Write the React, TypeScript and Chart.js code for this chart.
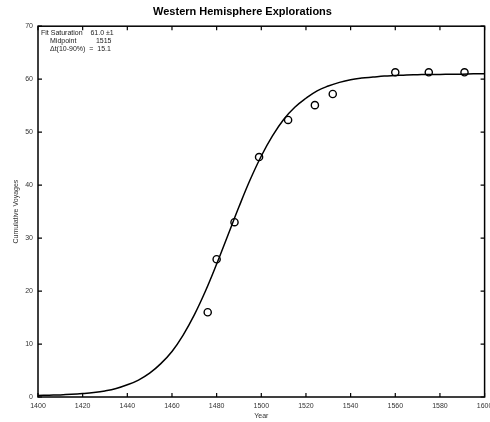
import React, { useEffect, useRef } from "react";
import { Chart, registerables } from "chart.js";

Chart.register(...registerables);

const curveYears = [1400,1405,1410,1415,1420,1425,1430,1435,1440,1445,1450,1455,1460,1465,1470,1475,1480,1485,1490,1495,1500,1505,1510,1515,1520,1525,1530,1535,1540,1545,1550,1555,1560,1565,1570,1575,1580,1585,1590,1595,1600];
const curveValues = [0.3,0.35,0.4,0.5,0.65,0.85,1.15,1.6,2.3,3.2,4.5,6.3,8.6,11.7,15.5,20.0,25.1,30.5,35.9,41.0,45.5,49.3,52.4,54.7,56.4,57.8,58.7,59.4,59.9,60.2,60.4,60.6,60.7,60.8,60.85,60.9,60.9,60.95,60.95,61.0,61.0];

const pointYears = [1476,1480,1488,1499,1512,1524,1532,1560,1575,1591];
const pointValues = [16,26,33,45.3,52.3,55.1,57.2,61.3,61.3,61.3];

const xTicks = [1400,1420,1440,1460,1480,1500,1520,1540,1560,1580,1600];
const yTicks = [0,10,20,30,40,50,60,70];

const titleText = "Western Hemisphere Explorations";
const xTitle = "Year";
const yTitle = "Cumulative Voyages";
const fitLines = ["Fit Saturation    61.0 ±1", "Midpoint          1515", "Δt(10-90%)  =  15.1"];

const FONT = "'Liberation Sans', Arial, sans-serif";

const frame = {
  id: "frame",
  afterDatasetsDraw(chart: any) {
    const { ctx, chartArea: a, scales } = chart;
    ctx.save();
    ctx.strokeStyle = "#000";
    ctx.lineWidth = 1.5;
    ctx.strokeRect(a.left, a.top, a.right - a.left, a.bottom - a.top);
    ctx.lineWidth = 1.2;
    const L = 4;
    ctx.beginPath();
    xTicks.forEach((v) => {
      const x = scales.x.getPixelForValue(v);
      ctx.moveTo(x, a.bottom); ctx.lineTo(x, a.bottom - L);
      ctx.moveTo(x, a.top); ctx.lineTo(x, a.top + L);
    });
    yTicks.forEach((v) => {
      const y = scales.y.getPixelForValue(v);
      ctx.moveTo(a.left, y); ctx.lineTo(a.left + L, y);
      ctx.moveTo(a.right, y); ctx.lineTo(a.right - L, y);
    });
    ctx.stroke();
    ctx.fillStyle = "#222";
    ctx.font = `7px ${FONT}`;
    ctx.textBaseline = "middle";
    ctx.textAlign = "left";
    fitLines.forEach((t, i) => {
      ctx.fillText(t, a.left + (i === 0 ? 3 : 12), a.top + 7 + i * 8);
    });
    ctx.restore();
  },
};

export default function App() {
  const ref = useRef<HTMLCanvasElement>(null);
  useEffect(() => {
    document.body.style.margin = "0";
    const chart = new Chart(ref.current!, {
      type: "scatter",
      data: {
        datasets: [
          {
            type: "line",
            data: curveYears.map((x, i) => ({ x, y: curveValues[i] })),
            borderColor: "#000",
            borderWidth: 1.5,
            pointRadius: 0,
            tension: 0.4,
            fill: false,
          } as any,
          {
            type: "scatter",
            data: pointYears.map((x, i) => ({ x, y: pointValues[i] })),
            borderColor: "#000",
            backgroundColor: "rgba(255,255,255,0)",
            borderWidth: 1.4,
            pointRadius: 3.6,
            pointStyle: "circle",
          },
        ],
      },
      options: {
        animation: false,
        responsive: false,
        devicePixelRatio: 1,
        layout: { padding: { left: 0, right: 5, top: 0, bottom: 0 } },
        plugins: {
          legend: { display: false },
          tooltip: { enabled: false },
          title: {
            display: true,
            text: titleText,
            color: "#000",
            font: { family: FONT, size: 11, weight: "bold" },
            padding: { top: 5, bottom: 8 },
          },
        },
        scales: {
          x: {
            type: "linear",
            min: 1400,
            max: 1600,
            afterBuildTicks: (s: any) => { s.ticks = xTicks.map((v) => ({ value: v })); },
            afterFit: (s: any) => { s.height = 25; s.paddingLeft = 0; s.paddingRight = 0; },
            grid: { display: false, drawTicks: false },
            border: { display: false },
            ticks: { color: "#333", font: { family: FONT, size: 7 }, padding: 5, maxRotation: 0, autoSkip: false, callback: (v: any) => String(v) },
            title: { display: true, text: xTitle, color: "#333", font: { family: FONT, size: 7 }, padding: { top: 0, bottom: 2 } },
          },
          y: {
            type: "linear",
            min: 0,
            max: 70,
            afterBuildTicks: (s: any) => { s.ticks = yTicks.map((v) => ({ value: v })); },
            afterFit: (s: any) => { s.width = 38; s.paddingTop = 0; s.paddingBottom = 0; },
            grid: { display: false, drawTicks: false },
            border: { display: false },
            ticks: { color: "#333", font: { family: FONT, size: 7 }, padding: 5, autoSkip: false, callback: (v: any) => String(v) },
            title: { display: true, text: yTitle, color: "#333", font: { family: FONT, size: 7 }, padding: { top: 12, bottom: 4 } },
          },
        },
      },
      plugins: [frame],
    });
    return () => chart.destroy();
  }, []);
  return <canvas ref={ref} width={490} height={422} style={{ display: "block" }} />;
}
